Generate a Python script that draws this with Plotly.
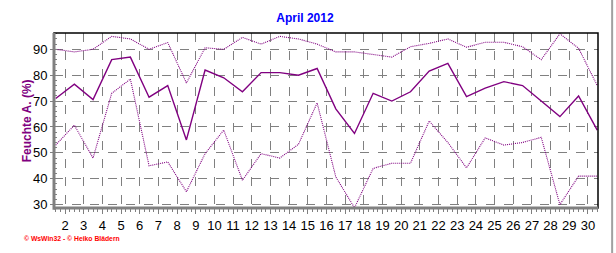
import plotly.graph_objects as go

days = list(range(1, 31))
hum_max = [90, 89, 90, 95, 94, 90, 92.6, 77, 90.6, 90, 94.6, 92, 95, 94, 92, 89, 89, 88, 87, 91,
           92.3, 94, 90.8, 92.7, 92.7, 91, 86, 96, 90.4, 76]
hum_mean = [71, 76.5, 70.6, 86, 87, 71.5, 76, 55, 82, 79, 73.6, 81, 81, 80, 82.6, 67, 57.5, 73, 70, 73.6,
            81.6, 84.6, 71.7, 75, 77.5, 76, 70, 64, 72, 58.8]
hum_min = [53, 60.7, 48, 73, 78.5, 45, 46.5, 35, 49.7, 58.8, 39.4, 49.7, 48, 53.3, 69.3, 40.7, 28.8, 44, 46, 46,
           62.3, 54, 44.2, 55.8, 53, 54, 56, 30, 41, 41]
tick_days = list(range(2, 31))
y_ticks = [30, 40, 50, 60, 70, 80, 90]

xpos = [d + 0.5 for d in days]
purple = "#800080"

fig = go.Figure()
fig.add_trace(go.Scatter(x=xpos, y=hum_max, mode="lines", line=dict(color=purple, width=1.1, dash="1px,1px")))
fig.add_trace(go.Scatter(x=xpos, y=hum_min, mode="lines", line=dict(color=purple, width=1.1, dash="1px,1px")))
fig.add_trace(go.Scatter(x=xpos, y=hum_mean, mode="lines", line=dict(color=purple, width=1.4)))

fig.update_layout(
    width=616, height=253,
    margin=dict(l=54, r=18, t=33, b=45),
    paper_bgcolor="white", plot_bgcolor="white",
    showlegend=False,
    font=dict(family="Liberation Sans, Arial, sans-serif", color="black"),
    title=dict(text="<b>April 2012</b>", x=0.495, xanchor="center", y=0.93, yanchor="middle",
               font=dict(size=12, color="#0000ff")),
)
fig.update_xaxes(
    range=[1.41, 30.54], tickvals=tick_days, ticktext=[str(d) for d in tick_days],
    showgrid=True, gridcolor="#808080", griddash="dash", gridwidth=1,
    ticks="outside", ticklen=5, tickcolor="#808080",
    tickfont=dict(size=13, color="black"), zeroline=False, showline=False,
    minor=dict(tick0=2, dtick=0.25, ticks="outside", ticklen=3, tickcolor="#808080", showgrid=False),
)
fig.update_yaxes(
    range=[28.7, 96.3], tickvals=y_ticks,
    showgrid=True, gridcolor="#808080", griddash="dash", gridwidth=1,
    ticks="outside", ticklen=3, tickcolor="#808080",
    tickfont=dict(size=13, color="black"), zeroline=False, showline=False,
    minor=dict(dtick=2, ticks="inside", ticklen=3, tickcolor="#808080", showgrid=False),
)
fig.add_annotation(text="<b>Feuchte A. (%)</b>", xref="paper", yref="paper",
                   x=-0.05, y=0.5, xanchor="center", yanchor="middle", textangle=-90,
                   showarrow=False, font=dict(size=12, color=purple))
# frame
fig.add_shape(type="rect", xref="paper", yref="paper", x0=0, x1=1, y0=0, y1=1,
              line=dict(color="black", width=1.5), layer="above")
fig.add_shape(type="line", xref="paper", yref="paper", x0=0, x1=0, y0=-0.01, y1=1,
              line=dict(color="#808080", width=3), layer="above")
fig.add_shape(type="line", xref="paper", yref="paper", x0=0, x1=1, y0=0, y1=0,
              line=dict(color="#808080", width=3), layer="above")
# right gray border of the image
fig.add_shape(type="line", xref="paper", yref="paper", x0=1.026, x1=1.026, y0=-0.26, y1=1.19,
              line=dict(color="#a0a0a0", width=2), layer="above")
fig.add_annotation(text="<b>© WsWin32 - © Heiko Blädern</b>", xref="paper", yref="paper",
                   x=-0.059, y=-0.174, xanchor="left", yanchor="middle", showarrow=False,
                   font=dict(size=6.8, color="#ff0000"))

fig.write_html("out.html")
